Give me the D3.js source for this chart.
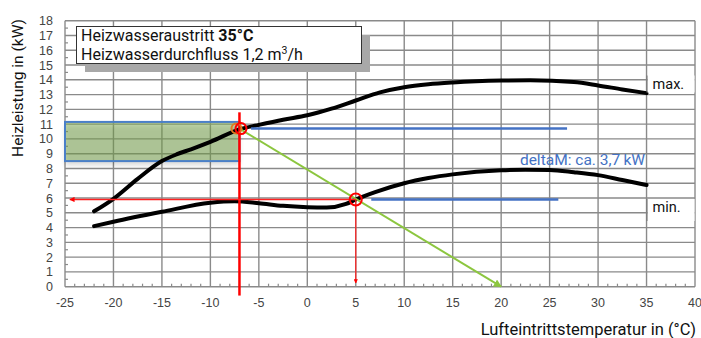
<!DOCTYPE html>
<html><head><meta charset="utf-8">
<script src="https://cdn.jsdelivr.net/npm/d3@7"></script>
<style>body{margin:0;background:#fff}svg{display:block}</style>
</head><body>
<svg id="c" width="701" height="338"></svg>
<script>
// ---- data ----
const xTicks = [-25,-20,-15,-10,-5,0,5,10,15,20,25,30,35,40];
const yTicks = [0,1,2,3,4,5,6,7,8,9,10,11,12,13,14,15,16,17,18];
const maxTemp = [-22,-20,-17.5,-15,-13.5,-12,-10,-7,-5,-2.5,0,2.5,5,7.5,10,12.5,15,20,23,27.5,30,32.5,35];
const maxPower = [5.1,5.95,7.3,8.5,8.95,9.3,9.8,10.65,10.95,11.3,11.6,12.05,12.6,13.15,13.5,13.7,13.82,13.95,13.97,13.85,13.62,13.35,13.1];
const minTemp = [-22,-20,-15,-10,-7.5,-5,-2.5,0,2,4,5,7,10,12.5,15,20,22.5,25,27.5,30,32.5,35];
const minPower = [4.1,4.4,5.07,5.68,5.78,5.65,5.47,5.38,5.36,5.6,5.9,6.4,7.0,7.35,7.6,7.88,7.92,7.9,7.75,7.55,7.22,6.88];
const bivalentTemp = -7, bivalentPower = 10.7;
const balanceTemp = 5, balancePower = 5.9;
const areaPowerLow = 8.5, areaPowerHigh = 11.15;
const buildingLoadEnd = [20, 0];
const upperBlue = [-5.8, 26.8];
const lowerBlue = [6.6, 25.9];
const legendLine1 = "Heizwasseraustritt ", legendBold = "35\u00B0C";
const legendLine2 = "Heizwasserdurchfluss 1,2 m";
const deltaText = "deltaM: ca. 3,7\u2009kW";
const yLabel = "Heizleistung in (kW)";
const xLabel = "Lufteintrittstemperatur in (\u00B0C)";

// ---- scales ----
const svg = d3.select("#c");
const x = d3.scaleLinear().domain([-25,40]).range([65,695]);
const y = d3.scaleLinear().domain([0,18]).range([286.7,20.7]);
const font = "Roboto, 'Noto Sans', sans-serif";
const gridCol = "#8a8a8a";

// grid
const g = svg.append("g");
g.selectAll("line.h").data(yTicks).join("line")
  .attr("x1", x(-25)).attr("x2", x(40))
  .attr("y1", d=>y(d)).attr("y2", d=>y(d))
  .attr("stroke", gridCol).attr("stroke-width", 1.4);
g.selectAll("line.v").data(xTicks).join("line")
  .attr("x1", d=>x(d)).attr("x2", d=>x(d))
  .attr("y1", y(0)).attr("y2", y(18))
  .attr("stroke", gridCol).attr("stroke-width", 1.4);
// minor ticks
g.selectAll("line.mx").data(d3.range(-24,40,1).filter(v=>v%5!==0)).join("line")
  .attr("x1", d=>x(d)).attr("x2", d=>x(d))
  .attr("y1", y(0)).attr("y2", y(0)-3)
  .attr("stroke", gridCol).attr("stroke-width", 1.2);
g.selectAll("line.my").data(d3.range(0.5,18,1)).join("line")
  .attr("x1", x(-25)).attr("x2", x(-25)+3)
  .attr("y1", d=>y(d)).attr("y2", d=>y(d))
  .attr("stroke", gridCol).attr("stroke-width", 1.2);

// tick labels
svg.append("g").selectAll("text").data(xTicks).join("text")
  .attr("x", d=>x(d)).attr("y", 307).attr("text-anchor","middle")
  .attr("font-family","'Liberation Sans', Arial, sans-serif").attr("font-size",12.5)
  .attr("fill","#444").text(d=>d);
svg.append("g").selectAll("text").data(yTicks).join("text")
  .attr("x", 53).attr("y", d=>y(d)+4.5).attr("text-anchor","end")
  .attr("font-family","'Liberation Sans', Arial, sans-serif").attr("font-size",12.5)
  .attr("fill","#444").text(d=>d);

// green area (shadow + fill)
const defs = svg.append("defs");
const f = defs.append("filter").attr("id","sh").attr("x","-10%").attr("y","-10%").attr("width","130%").attr("height","160%");
f.append("feGaussianBlur").attr("stdDeviation",2.5);
svg.append("rect").attr("x", x(-25)).attr("y", y(areaPowerHigh)+4)
  .attr("width", x(bivalentTemp)-x(-25)).attr("height", y(areaPowerLow)-y(areaPowerHigh))
  .attr("fill","#000").attr("opacity",0.15).attr("filter","url(#sh)");
svg.append("rect").attr("x", x(-25)).attr("y", y(areaPowerHigh))
  .attr("width", x(bivalentTemp)-x(-25)).attr("height", y(areaPowerLow)-y(areaPowerHigh))
  .attr("fill","#7fae52").attr("fill-opacity",0.5)
  .attr("stroke","#4a7fc8").attr("stroke-width",2);

// curves
const line = d3.line().x(d=>x(d[0])).y(d=>y(d[1])).curve(d3.curveMonotoneX);
svg.append("path").datum(maxTemp.map((t,i)=>[t,maxPower[i]]))
  .attr("d", line).attr("fill","none").attr("stroke","#000").attr("stroke-width",4).attr("stroke-linecap","round");
svg.append("path").datum(minTemp.map((t,i)=>[t,minPower[i]]))
  .attr("d", line).attr("fill","none").attr("stroke","#000").attr("stroke-width",4).attr("stroke-linecap","round");

// blue horizontal lines
svg.append("line").attr("x1",x(upperBlue[0])).attr("x2",x(upperBlue[1]))
  .attr("y1",y(bivalentPower)).attr("y2",y(bivalentPower)).attr("stroke","#4472c4").attr("stroke-width",2.5);
svg.append("line").attr("x1",x(lowerBlue[0])).attr("x2",x(lowerBlue[1]))
  .attr("y1",y(balancePower)).attr("y2",y(balancePower)).attr("stroke","#4472c4").attr("stroke-width",2.5);

// markers
const mk = (id,col,sz)=>{
  defs.append("marker").attr("id",id).attr("viewBox","0 0 10 10").attr("refX",9).attr("refY",5)
    .attr("markerWidth",sz).attr("markerHeight",sz).attr("orient","auto-start-reverse")
    .append("path").attr("d","M0,0L10,5L0,10z").attr("fill",col);
};
mk("ag","#8cc63f",4); mk("ar","#ff0000",3.5);

// green building line
svg.append("line").attr("x1",x(bivalentTemp)).attr("y1",y(bivalentPower))
  .attr("x2",x(buildingLoadEnd[0])).attr("y2",y(buildingLoadEnd[1]))
  .attr("stroke","#8cc63f").attr("stroke-width",2).attr("marker-end","url(#ag)");

// red lines
svg.append("line").attr("x1",x(bivalentTemp)).attr("x2",x(bivalentTemp))
  .attr("y1",y(11.8)).attr("y2",y(-0.6)).attr("stroke","#ff0000").attr("stroke-width",2.5);
svg.append("line").attr("x1",x(balanceTemp)).attr("x2",x(-24.5))
  .attr("y1",y(balancePower)).attr("y2",y(balancePower)).attr("stroke","#ff2020").attr("stroke-width",1.5)
  .attr("marker-end","url(#ar)");
svg.append("line").attr("x1",x(balanceTemp)).attr("x2",x(balanceTemp))
  .attr("y1",y(balancePower)).attr("y2",y(0.25)).attr("stroke","#ff2020").attr("stroke-width",1.2)
  .attr("marker-end","url(#ar)");

// circles
svg.append("circle").attr("cx",x(bivalentTemp)-3).attr("cy",y(bivalentPower)).attr("r",5)
  .attr("fill","none").attr("stroke","#e07a1f").attr("stroke-width",2);
svg.append("circle").attr("cx",x(bivalentTemp)+1.5).attr("cy",y(bivalentPower)).attr("r",5.5)
  .attr("fill","none").attr("stroke","#ff0000").attr("stroke-width",2);
svg.append("circle").attr("cx",x(balanceTemp)).attr("cy",y(balancePower)).attr("r",6)
  .attr("fill","none").attr("stroke","#ff0000").attr("stroke-width",2);

// legend box
svg.append("rect").attr("x",85).attr("y",35).attr("width",285).attr("height",37).attr("fill","#a8a8a8");
svg.append("rect").attr("x",76.5).attr("y",26.5).attr("width",285).attr("height",37)
  .attr("fill","#fff").attr("stroke","#333").attr("stroke-width",1);
const t1 = svg.append("text").attr("x",81).attr("y",41).attr("font-family",font).attr("font-size",16).attr("fill","#111");
t1.append("tspan").text(legendLine1);
t1.append("tspan").attr("font-weight","bold").text(legendBold);
const t2 = svg.append("text").attr("x",81).attr("y",60).attr("font-family",font).attr("font-size",16).attr("fill","#111");
t2.append("tspan").text(legendLine2);
t2.append("tspan").attr("font-size",10.5).attr("dy",-6).text("3");
t2.append("tspan").attr("dy",6).text("/h");

// max / min labels
[["max.", 88.5, 17], ["min.", 212, 22]].forEach(([lbl, by, h])=>{
  svg.append("rect").attr("x",x(35)+1).attr("y",by-13).attr("width",47).attr("height",h).attr("fill","#fff");
  svg.append("line").attr("x1",x(35)+0.5).attr("x2",x(35)+0.5).attr("y1",by-13).attr("y2",by-13+h)
    .attr("stroke","#777").attr("stroke-width",1);
  svg.append("text").attr("x",x(35)+6).attr("y",by).attr("font-family",font).attr("font-size",14.5).attr("fill","#111").text(lbl);
});

// delta text
svg.append("text").attr("x",645).attr("y",165).attr("text-anchor","end")
  .attr("font-family",font).attr("font-size",15.5).attr("fill","#4472c4").text(deltaText);

// axis titles
svg.append("text").attr("transform","translate(23,88) rotate(-90)").attr("text-anchor","middle")
  .attr("font-family",font).attr("font-size",15.5).attr("fill","#111").text(yLabel);
svg.append("text").attr("x",696).attr("y",335).attr("text-anchor","end")
  .attr("font-family",font).attr("font-size",16.5).attr("fill","#111").text(xLabel);
</script>
</body></html>
